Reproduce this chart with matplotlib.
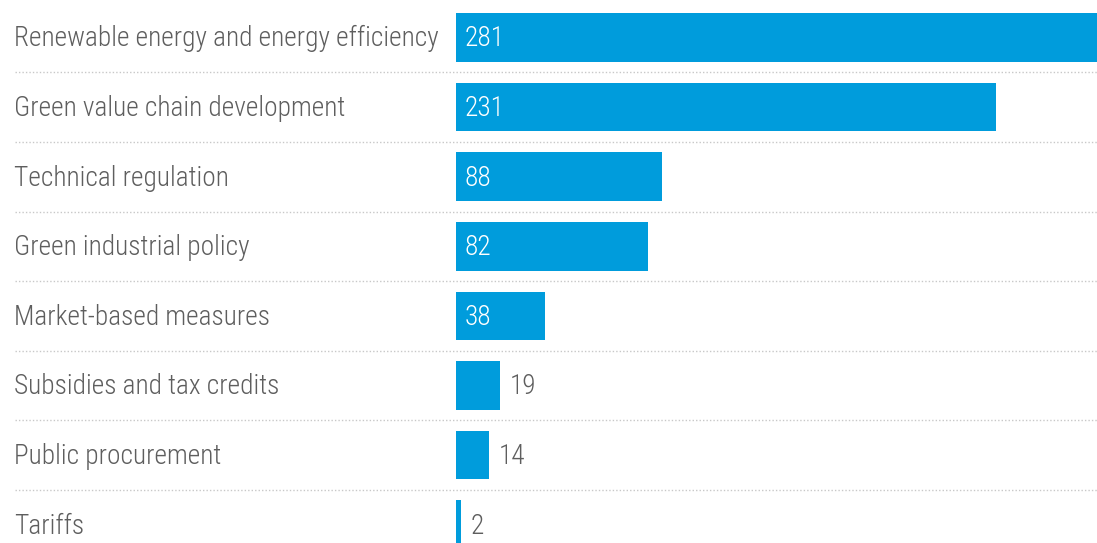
import matplotlib
matplotlib.use("Agg")
import matplotlib.pyplot as plt
from matplotlib.transforms import blended_transform_factory

categories = ["Renewable energy and energy efficiency", "Green value chain development",
              "Technical regulation", "Green industrial policy", "Market-based measures",
              "Subsidies and tax credits", "Public procurement", "Tariffs"]
values = [281, 231, 88, 82, 38, 19, 14, 2]

W, H = 1097, 543
fig = plt.figure(figsize=(W / 100, H / 100), dpi=100)
ax = fig.add_axes([456 / W, 0, 1 - 456 / W, 1])
ax.set_xlim(0, (W - 456) / 2.338)
ax.set_ylim(7.263, -0.539)
ax.axis("off")

bar_color = "#009cdc"
text_color = "#5e5e5e"
font = dict(family=["Roboto Condensed", "DejaVu Sans"], fontweight=300)
fs = 19.7

y = list(range(len(categories)))
ax.barh(y, values, height=0.7, color=bar_color)

lab_tr = blended_transform_factory(fig.transFigure, ax.transData)
for i, (c, v) in enumerate(zip(categories, values)):
    ax.text(14 / W, i + 0.02, c, transform=lab_tr, ha="left", va="center", fontsize=fs,
            color=text_color, clip_on=False, **font)
    if v >= 30:
        ax.text(3.5, i + 0.02, str(v), ha="left", va="center", fontsize=fs, color="white", **font)
    else:
        ax.text(v + 4.2, i + 0.02, str(v), ha="left", va="center", fontsize=fs, color=text_color, **font)

for i in range(len(categories) - 1):
    ax.plot([15 / W, 1.0], [i + 0.5, i + 0.5], transform=lab_tr, color="#c8c8c8",
            linestyle=(0, (1, 1.5)), linewidth=1, clip_on=False)

fig.savefig("out.png", dpi=100)
